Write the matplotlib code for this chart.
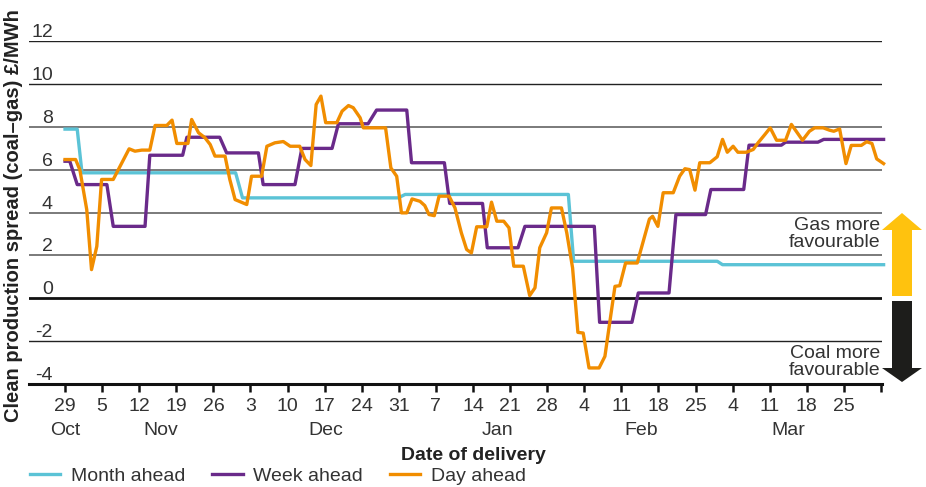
import numpy as np
import matplotlib.pyplot as plt
from matplotlib.patches import Polygon
from matplotlib.transforms import blended_transform_factory

# Datos (días desde el 29 de octubre)
month_days = [0, 2.3, 3.2, 32.2, 33.5, 62.9, 64.2, 95.0, 96.0, 123.1, 124.1, 154.5]
month_vals = [7.9, 7.9, 5.86, 5.86, 4.69, 4.69, 4.85, 4.85, 1.73, 1.73, 1.57, 1.57]

week_days = [0, 0.9, 2.3, 7.9, 9.1, 15.1, 16.0, 22.2, 23.0, 29.2, 30.5, 36.5, 37.4,
             43.4, 44.7, 50.4, 51.6, 57.2, 58.8, 64.5, 65.4, 71.6, 72.6, 78.8, 79.7,
             85.5, 86.8, 99.9, 100.9, 107.0, 108.2, 114.0, 115.3, 120.9, 121.9,
             128.1, 129.1, 135.2, 136.0, 142.1, 143.2, 154.5]
week_vals = [6.4, 6.4, 5.31, 5.31, 3.36, 3.36, 6.68, 6.68, 7.52, 7.52, 6.79, 6.79, 5.31,
             5.31, 7.0, 7.0, 8.15, 8.15, 8.79, 8.79, 6.33, 6.33, 4.43, 4.43, 2.36,
             2.36, 3.36, 3.36, -1.12, -1.12, 0.25, 0.25, 3.91, 3.91, 5.08,
             5.08, 7.15, 7.15, 7.29, 7.29, 7.42, 7.42]

day_days = [0, 2.0, 2.8, 4.1, 5.0, 6.0, 6.9, 9.1, 10.4, 12.1, 13.2, 14.5, 16.0, 17.0,
            19.2, 20.2, 21.1, 23.2, 23.9, 25.2, 26.4, 27.4, 28.3, 30.2, 31.1, 32.1,
            34.3, 35.2, 37.1, 38.1, 39.6, 41.2, 42.5, 44.3, 45.3, 46.4, 47.4, 48.3,
            49.2, 51.3, 52.3, 53.5, 54.4, 55.7, 56.3, 60.5, 61.5, 62.6, 63.5, 64.5,
            65.5, 67.0, 67.9, 68.7, 69.7, 70.6, 72.5, 73.6, 74.8, 75.8, 76.7, 77.7,
            79.6, 80.5, 81.5, 82.8, 83.8, 84.7, 86.5, 87.7, 88.7, 89.6, 90.9, 91.8,
            93.7, 94.7, 95.8, 96.8, 97.8, 98.9, 100.8, 101.9, 102.8, 103.8, 104.7,
            105.8, 108.0, 110.3, 110.9, 111.9, 112.9, 114.8, 116.0, 117.0, 117.9,
            118.9, 119.8, 121.7, 123.1, 124.1, 125.0, 126.1, 127.0, 128.6, 129.9,
            130.8, 132.1, 133.1, 134.3, 136.0, 137.1, 139.2, 140.5, 141.5, 143.1,
            144.3, 145.1, 146.2, 147.4, 148.4, 150.3, 151.3, 152.3, 153.2, 154.5]
day_vals = [6.48, 6.48, 6.0, 4.14, 1.34, 2.43, 5.55, 5.55, 6.17, 6.98, 6.87, 6.92, 6.92, 8.07,
            8.07, 8.32, 7.23, 7.23, 8.35, 7.73, 7.5, 7.18, 6.64, 6.64, 5.55, 4.61,
            4.38, 5.70, 5.70, 7.1, 7.26, 7.32, 7.1, 7.1, 6.48, 6.2, 9.05, 9.44,
            8.2, 8.2, 8.74, 9.0, 8.9, 8.43, 7.96, 7.96, 6.09, 5.70, 3.99, 3.99,
            4.64, 4.53, 4.33, 3.91, 3.86, 4.77, 4.77, 4.22, 3.06, 2.28, 2.12, 3.34,
            3.34, 4.49, 3.6, 3.6, 3.29, 1.5, 1.5, 0.13, 0.49, 2.36, 3.06, 4.22,
            4.22, 3.06, 1.42, -1.59, -1.62, -3.25, -3.25, -2.71, -1.15, 0.56, 0.59,
            1.65, 1.65, 3.7, 3.83, 3.36, 4.93, 4.93, 5.70, 6.05, 6.01,
            5.05, 6.33, 6.33, 6.61, 7.42, 6.82, 7.1, 6.82, 6.82, 6.95,
            7.26, 7.65, 7.96, 7.38, 7.38, 8.12, 7.38, 7.8, 7.96, 7.96,
            7.85, 7.8, 7.91, 6.29, 7.14, 7.14, 7.31, 7.23, 6.51, 6.29]

tick_days = list(range(0, 155, 7))
tick_labels = ["29", "5", "12", "19", "26", "3", "10", "17", "24", "31", "7", "14",
               "21", "28", "4", "11", "18", "25", "4", "11", "18", "25", ""]
months = ["Oct", "Nov", "Dec", "Jan", "Feb", "Mar"]
month_pos = [0, 18, 49.3, 81.6, 108.8, 136.5]
y_grid = [12, 10, 8, 6, 4, 2, 0, -2, -4]

plt.rcParams['font.family'] = ['Liberation Sans', 'DejaVu Sans']
txt = '#333333'

W, H = 926, 487
fig = plt.figure(figsize=(W / 100, H / 100), dpi=100)
ax = fig.add_axes([29 / W, 1 - 384 / H, (882 - 29) / W, (384 - 41.3) / H])

for v in y_grid:
    if v == 0:
        ax.axhline(v, color='#111111', lw=2.0, zorder=1)
    elif v in (12, 10, -2):
        ax.axhline(v, color='#222222', lw=1.0, zorder=1)
    elif v != -4:
        ax.axhline(v, color='#7a7a7a', lw=1.4, zorder=1)

ax.plot(month_days, month_vals, color='#5BC3D6', lw=2.4, label='Month ahead', zorder=3, clip_on=False)
ax.plot(week_days, week_vals, color='#6A2A8A', lw=2.4, label='Week ahead', zorder=4, clip_on=False)
ax.plot(day_days, day_vals, color='#F18D00', lw=2.4, label='Day ahead', zorder=5, clip_on=False)

ax.set_xlim(-6.8, 154.2)
ax.set_ylim(-4, 12)
for s in ['left', 'right', 'top']:
    ax.spines[s].set_visible(False)
ax.spines['bottom'].set_linewidth(2.2)
ax.spines['bottom'].set_color('#111111')

ax.set_yticks([])
ax.set_xticks(tick_days)
ax.set_xticklabels(tick_labels, fontsize=14, color=txt)
ax.tick_params(axis='x', length=6, width=1.8, color='#111111', pad=4)

# etiquetas del eje y encima de las líneas
trans = blended_transform_factory(ax.transAxes, ax.transData)
for v in y_grid:
    ax.text(24 / 853, v, str(v), transform=trans, ha='right', va='bottom',
            fontsize=14, color=txt)

# meses
trans2 = blended_transform_factory(ax.transData, ax.transAxes)
for m, p in zip(months, month_pos):
    ax.text(p, -0.112, m, transform=trans2, ha='center', va='top', fontsize=14, color=txt)

fig.text(473 / W, 1 - 455 / H, 'Date of delivery', ha='center', va='center',
         fontsize=14, fontweight='bold', color='#222222')
fig.text(14 / W, 1 - 216 / H, 'Clean production spread (coal–gas) £/MWh', rotation=90,
         ha='center', va='center', fontsize=14.5, fontweight='bold', color='#222222')

fig.legend(loc='lower left', bbox_to_anchor=(30 / W, 0.004), ncol=3, frameon=False,
           fontsize=14, handlelength=1.55, handletextpad=0.55, columnspacing=1.4,
           borderpad=0, borderaxespad=0, labelcolor=txt)


def px(points):
    return [(x / W, 1 - y / H) for x, y in points]


gold = Polygon(px([(902, 213), (922, 230), (912, 230), (912, 296), (892, 296),
                   (892, 230), (882, 230)]), closed=True, transform=fig.transFigure,
               facecolor='#FFC20E', edgecolor='none')
black = Polygon(px([(892, 301), (912, 301), (912, 368), (922, 368), (902, 382),
                    (882, 368), (892, 368)]), closed=True, transform=fig.transFigure,
                facecolor='#1d1d1b', edgecolor='none')
fig.add_artist(gold)
fig.add_artist(black)

fig.text(880 / W, 1 - 234 / H, 'Gas more\nfavourable', ha='right', va='center',
         fontsize=14, color=txt, linespacing=1.05)
fig.text(880 / W, 1 - 362 / H, 'Coal more\nfavourable', ha='right', va='center',
         fontsize=14, color=txt, linespacing=1.05)

fig.savefig('out.png', dpi=100)
